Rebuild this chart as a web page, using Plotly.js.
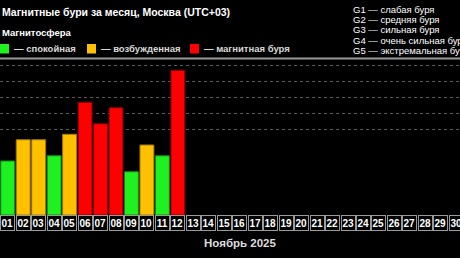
<!DOCTYPE html>
<html>
<head>
<meta charset="utf-8">
<script src="https://cdn.plot.ly/plotly-3.0.1.min.js"></script>
<style>
html,body{margin:0;padding:0;background:#000;overflow:hidden;width:460px;height:258px;}
#chart{width:464px;height:258px;}
</style>
</head>
<body>
<div id="chart"></div>
<script>
// ---- data ----
const dayLabels = ['01','02','03','04','05','06','07','08','09','10','11','12','13','14','15','16','17','18','19','20','21','22','23','24','25','26','27','28','29','30'];
const barDays = ['01','02','03','04','05','06','07','08','09','10','11','12'];
const kpValues = [3.0, 4.33, 4.33, 3.33, 4.67, 6.67, 5.33, 6.33, 2.33, 4.0, 3.33, 8.67];
const stormLevels = ['G1 — слабая буря','G2 — средняя буря','G3 — сильная буря','G4 — очень сильная буря','G5 — экстремальная буря'];
const stormKp = [5, 6, 7, 8, 9];
const legendLabels = ['— спокойная','— возбужденная','— магнитная буря'];
const titleText = 'Магнитные бури за месяц, Москва (UTC+03)';
const subTitle = 'Магнитосфера';
const monthLabel = 'Ноябрь 2025';

// ---- styling ----
const GREEN = '#1ff01f', ORANGE = '#ffc000', RED = '#ff0000';
const GREEN_E = '#0b8a0b', ORANGE_E = '#a07800', RED_E = '#7a0000';
const W = 464, H = 258, TOP = 59, BOTTOM = 215;
const yMin = -0.375, yMax = 9.375;
const X = px => px / W;
const Y = py => (BOTTOM - py) / (BOTTOM - TOP);
const FONT = 'Liberation Sans, Arial, sans-serif';

function colorFor(v){ return v >= 5 ? RED : (v >= 4 ? ORANGE : GREEN); }
function edgeFor(v){ return v >= 5 ? RED_E : (v >= 4 ? ORANGE_E : GREEN_E); }

const trace = {
  type: 'bar',
  x: barDays,
  y: kpValues.map(v => v - yMin),
  base: yMin,
  width: 0.9,
  marker: {
    color: kpValues.map(colorFor),
    line: {color: kpValues.map(edgeFor), width: 1}
  },
  hoverinfo: 'skip'
};

const annotations = [];
// day boxes (category index positions)
dayLabels.forEach((d, i) => annotations.push({
  x: i, xref: 'x', y: 0, yref: 'paper', yanchor: 'top', xanchor: 'center',
  text: '<b>' + d + '</b>', showarrow: false,
  font: {family: FONT, size: 10, color: '#ffffff'},
  bgcolor: '#000000', bordercolor: '#9a9a9a', borderwidth: 1, borderpad: 0,
  width: 12.5, height: 14
}));
// titles
annotations.push({x: X(0), y: Y(12), xref: 'paper', yref: 'paper', xanchor: 'left', yanchor: 'middle',
  text: '<b>' + titleText + '</b>', showarrow: false,
  font: {family: FONT, size: 10.5, color: '#ffffff'}});
annotations.push({x: X(0), y: Y(32.5), xref: 'paper', yref: 'paper', xanchor: 'left', yanchor: 'middle',
  text: '<b>' + subTitle + '</b>', showarrow: false,
  font: {family: FONT, size: 9.5, color: '#ffffff'}});
annotations.push({x: X(240), y: Y(242.5), xref: 'paper', yref: 'paper', xanchor: 'center', yanchor: 'middle',
  text: '<b>' + monthLabel + '</b>', showarrow: false,
  font: {family: FONT, size: 11.5, color: '#dddddd'}});
// legend row
const legendColors = [GREEN, ORANGE, RED];
const legendSqX = [0, 87, 190];
const shapes = [];
legendLabels.forEach((t, i) => {
  shapes.push({type: 'rect', xref: 'paper', yref: 'paper',
    x0: X(legendSqX[i]), x1: X(legendSqX[i] + 9), y0: Y(53.5), y1: Y(44),
    fillcolor: legendColors[i], line: {width: 0}});
  annotations.push({x: X(legendSqX[i] + 12), y: Y(48.5), xref: 'paper', yref: 'paper', xanchor: 'left', yanchor: 'middle',
    text: '<b>' + t + '</b>', showarrow: false,
    font: {family: FONT, size: 9.5, color: '#d8d8d8'}});
});
// storm level legend
stormLevels.forEach((t, i) => annotations.push({
  x: X(351), y: Y(9 + i * 10.4), xref: 'paper', yref: 'paper', xanchor: 'left', yanchor: 'middle',
  text: t, showarrow: false,
  font: {family: FONT, size: 9.5, color: '#ffffff'}
}));
// separator band at top of plot
shapes.push({type: 'rect', xref: 'paper', yref: 'paper', x0: 0, x1: 1, y0: Y(59.5), y1: Y(57.5),
  fillcolor: '#9a9a9a', line: {width: 0}, layer: 'above'});

const layout = {
  width: W, height: H,
  margin: {l: 0, r: 0, t: TOP, b: H - BOTTOM, pad: 0},
  paper_bgcolor: '#000000', plot_bgcolor: '#000000',
  showlegend: false,
  bargap: 0.1,
  xaxis: {type: 'category', categoryorder: 'array', categoryarray: dayLabels,
    range: [-0.5, dayLabels.length - 0.5], showticklabels: false, showgrid: false,
    zeroline: false, showline: false, ticks: ''},
  yaxis: {range: [yMin, yMax], tickvals: stormKp, showticklabels: false,
    showgrid: true, gridcolor: '#5a5a5a', griddash: 'dot', gridwidth: 1,
    zeroline: false, showline: false, ticks: ''},
  annotations: annotations,
  shapes: shapes
};

Plotly.newPlot('chart', [trace], layout, {displayModeBar: false, staticPlot: true});
</script>
</body>
</html>
